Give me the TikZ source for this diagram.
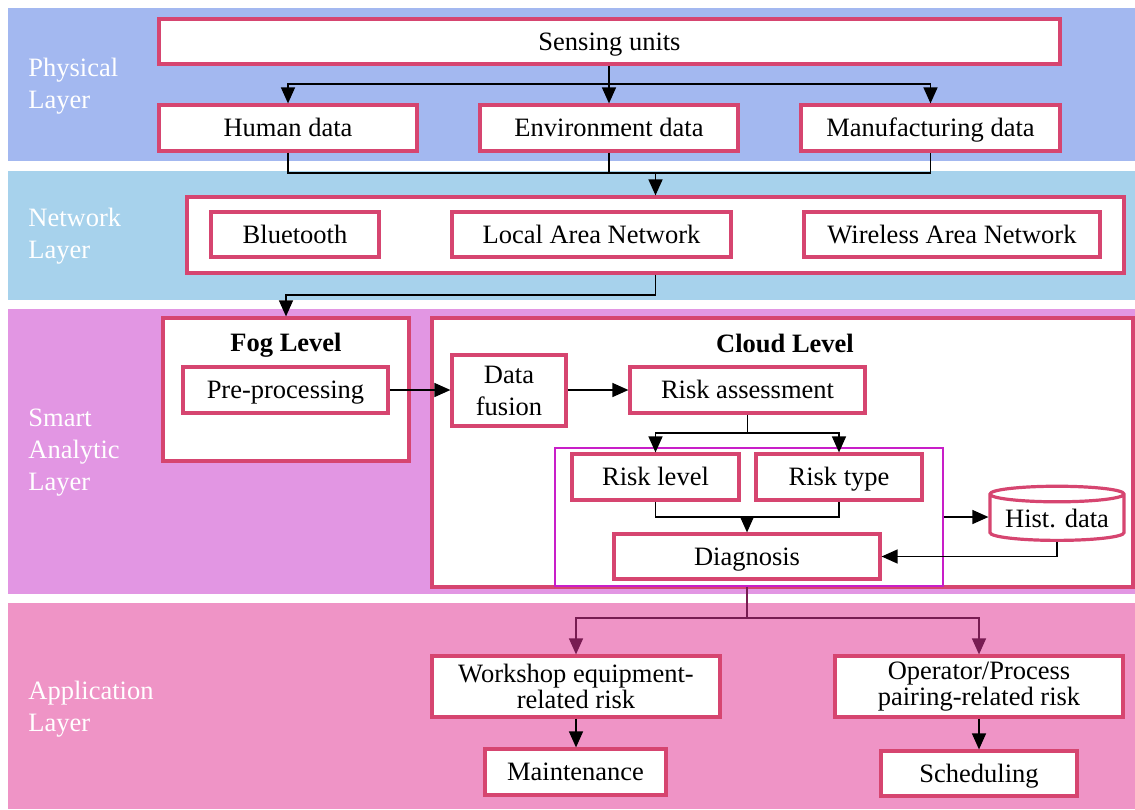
\documentclass[tikz,border=0pt]{standalone}
\usepackage{fontspec}
\setmainfont{Liberation Serif}
\usetikzlibrary{arrows.meta,shapes.geometric}

\definecolor{physbg}{RGB}{163,184,240}
\definecolor{netbg}{RGB}{167,210,236}
\definecolor{smartbg}{RGB}{226,150,227}
\definecolor{appbg}{RGB}{239,148,198}
\definecolor{boxline}{RGB}{214,69,112}
\definecolor{groupline}{RGB}{200,30,200}
\definecolor{appline}{RGB}{120,28,82}

\begin{document}
\begin{tikzpicture}[x=0.5pt,y=-0.5pt,
  every node/.style={font=\fontsize{13.25}{15}\selectfont},
  size/.style 2 args={minimum width=#1*0.5pt,minimum height=#2*0.5pt},
  box/.style={draw=boxline,line width=1.6pt,fill=white,inner sep=0pt,align=center},
  oneline/.style={text height=11.7pt,text depth=2.9pt},
  groupbox/.style={draw=groupline,line width=0.75pt,inner sep=0pt},
  link/.style={line width=0.7pt,draw=black},
  arr/.style={link,-{Triangle[length=8pt,width=7pt]}},
  applink/.style={line width=0.7pt,draw=appline},
  apparr/.style={applink,-{Triangle[length=8pt,width=7pt]}},
  layer/.style={text=white,anchor=west,align=left,inner sep=0pt,
    font=\fontsize{13.25}{16}\selectfont},
  title/.style={font=\fontsize{13.25}{15}\selectfont\bfseries,inner sep=0pt}]

\useasboundingbox (0,0) rectangle (1135,809);

% layer bands
\fill[physbg]  (8,8)   rectangle (1135,161);
\fill[netbg]   (8,171) rectangle (1135,300);
\fill[smartbg] (8,309) rectangle (1135,594);
\fill[appbg]   (8,603) rectangle (1135,809);

\node[layer] (lphys)  at (28,86)  {Physical\\Layer};
\node[layer] (lnet)   at (28,236) {Network\\Layer};
\node[layer] (lsmart) at (28,453) {Smart\\Analytic\\Layer};
\node[layer] (lapp)   at (28,709) {Application\\Layer};

% physical layer
\node[box,oneline,size={901}{45}] (sense) at (609.5,41.5) {Sensing units};
\node[box,oneline,size={258}{46}] (human) at (288,128)    {Human data};
\node[box,oneline,size={258}{46}] (env)   at (609,128)    {Environment data};
\node[box,oneline,size={259}{46}] (manu)  at (930.5,128)  {Manufacturing data};

% network layer
\node[box,size={937}{76}] (net) at (655.5,235)   {};
\node[box,oneline,size={168}{45}] (bt)  at (295,234.5)   {Bluetooth};
\node[box,oneline,size={279}{45}] (lan) at (591.5,234.5) {Local Area Network};
\node[box,oneline,size={296}{45}] (wan) at (952,234.5)   {Wireless Area Network};

% smart analytic layer: fog level
\node[box,size={246}{143}] (fog) at (286,389.5) {};
\node[title] (fogt) at (286,345) {Fog Level};
\node[box,oneline,size={205}{46}]  (pre) at (285.5,390) {Pre-processing};

% smart analytic layer: cloud level
\node[box,size={701}{269}] (cloud) at (782.5,452.5) {};
\node[title] (cloudt) at (785,343) {Cloud Level};
\node[box,size={114}{71},font=\fontsize{13.25}{16}\selectfont] (fusion) at (509,390.5) {Data\\fusion};
\node[box,oneline,size={235}{46}] (riska)  at (747.5,390) {Risk assessment};
\node[groupbox,size={388}{138}] (grp) at (749,517) {};
\node[box,oneline,size={167}{46}] (rlevel) at (655.5,477) {Risk level};
\node[box,oneline,size={166}{46}] (rtype)  at (839,477)   {Risk type};
\node[box,oneline,size={266}{45}] (diag)   at (747,556.5) {Diagnosis};
\node[box,cylinder,shape border rotate=90,aspect=0.15,
      text height=12.2pt,text depth=2.4pt,
      minimum width=67pt,minimum height=20pt] (hist) at (1057,518) {Hist. data};

% application layer
\node[box,size={288}{61},font=\fontsize{13.25}{11.5}\selectfont] (work) at (576,686.5) {Workshop equipment-\\related risk};
\node[box,size={288}{61},font=\fontsize{13.25}{11.5}\selectfont] (oper) at (979,686.5) {Operator/Process\\pairing-related risk};
\node[box,oneline,size={181}{46}] (maint) at (575.5,772) {Maintenance};
\node[box,oneline,size={196}{45}] (sched) at (979,773.5) {Scheduling};

% junction points of the connectors
\coordinate (sj) at (609,84);
\coordinate (pj) at (0,173);
\coordinate (nj) at (0,295);
\coordinate (rj) at (0,433);
\coordinate (dj) at (0,517);
\coordinate (aj) at (0,618);

% sensing units to the three data sources
\draw[arr] (env.north |- sense.south) -- (env.north);
\draw[arr] (sj) -| (human.north);
\draw[arr] (sj) -| (manu.north);

% data sources to the network
\draw[link] (human.south) |- (manu.south |- pj) -- (manu.south);
\draw[link] (env.south) -- (env.south |- pj);
\draw[arr] (net.north |- pj) -- (net.north);

% network to fog level
\draw[arr] (net.south) -- (net.south |- nj) -| (fog.north);

% fog to cloud processing chain
\draw[arr] (pre.east) -- (pre.east -| fusion.west);
\draw[arr] (fusion.east |- riska.west) -- (riska.west);
\draw[link] (riska.south) -- (riska.south |- rj);
\draw[arr] (riska.south |- rj) -| (rlevel.north);
\draw[arr] (riska.south |- rj) -| (rtype.north);
\draw[link] (rlevel.south) |- (rtype.south |- dj) -- (rtype.south);
\draw[arr] (diag.north |- dj) -- (diag.north);
\draw[arr] (grp.east |- dj) -- (hist.west |- dj);
\draw[arr] (hist.south) |- (diag.east);

% cloud level to the applications
\draw[applink] (diag.south |- grp.south) -- (diag.south |- aj);
\draw[apparr] (diag.south |- aj) -| (work.north);
\draw[apparr] (diag.south |- aj) -| (oper.north);
\draw[arr] (work.south) -- (work.south |- maint.north);
\draw[arr] (oper.south) -- (oper.south |- sched.north);

\end{tikzpicture}
\end{document}
